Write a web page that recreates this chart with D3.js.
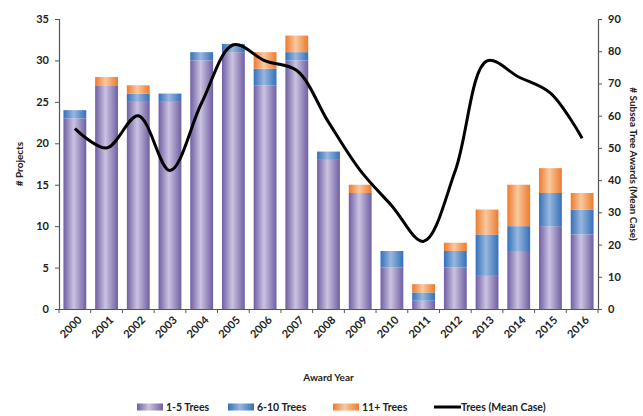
<!DOCTYPE html>
<html>
<head>
<meta charset="utf-8">
<script src="https://cdn.jsdelivr.net/npm/d3@7"></script>
<style>
  html, body { margin: 0; padding: 0; background: #fff; }
  svg text { font-family: Lato, "Open Sans", sans-serif; font-weight: bold; fill: #222; }
</style>
</head>
<body>
<svg id="chart" width="643" height="416"></svg>
<script>
// Award years and project counts per tree-count band
const years = ["2000","2001","2002","2003","2004","2005","2006","2007","2008","2009","2010","2011","2012","2013","2014","2015","2016"];
const trees1to5  = [23, 27, 25, 25, 30, 31, 27, 30, 18, 14, 5, 1, 5, 4, 7, 10, 9];
const trees6to10 = [ 1,  0,  1,  1,  1,  1,  2,  1,  1,  0, 2, 1, 2, 5, 3,  4, 3];
const trees11up  = [ 0,  1,  1,  0,  0,  0,  2,  2,  0,  1, 0, 1, 1, 3, 5,  3, 2];
// Subsea tree awards, mean case (right axis)
const meanCase = [56, 50, 60, 43, 64, 82, 77, 74, 58, 43, 32, 21, 43, 77, 72, 67, 53];

const leftTicks = [0, 5, 10, 15, 20, 25, 30, 35];
const rightTicks = [0, 10, 20, 30, 40, 50, 60, 70, 80, 90];
const seriesNames = ["1-5 Trees", "6-10 Trees", "11+ Trees"];

const svg = d3.select("#chart");
const m = { left: 59, right: 45, top: 19, bottom: 107 };
const W = 643, H = 416;
const x0 = m.left, x1 = W - m.right, yTop = m.top, yBot = H - m.bottom;

const x = d3.scaleBand().domain(years).range([x0, x1]).paddingInner(0.28).paddingOuter(0.14);
const yL = d3.scaleLinear().domain([0, 35]).range([yBot, yTop]);
const yR = d3.scaleLinear().domain([0, 90]).range([yBot, yTop]);

// cylinder-style horizontal gradients
const defs = svg.append("defs");
const grads = [
  { id: "g1", edge: "#6f5ea3", mid: "#cbc3e0" },
  { id: "g2", edge: "#3570b9", mid: "#98b7de" },
  { id: "g3", edge: "#ee7a2c", mid: "#f8c9a0" }
];
grads.forEach(g => {
  const lg = defs.append("linearGradient").attr("id", g.id).attr("x1", "0%").attr("x2", "100%").attr("y1", "0%").attr("y2", "0%");
  lg.append("stop").attr("offset", "0%").attr("stop-color", g.edge);
  lg.append("stop").attr("offset", "45%").attr("stop-color", g.mid);
  lg.append("stop").attr("offset", "100%").attr("stop-color", g.edge);
});

const table = years.map((yr, i) => ({ year: yr, a: trees1to5[i], b: trees6to10[i], c: trees11up[i] }));
const stack = d3.stack().keys(["a", "b", "c"])(table);

svg.append("g").selectAll("g").data(stack).join("g")
  .attr("fill", (d, i) => `url(#${grads[i].id})`)
  .selectAll("rect").data(d => d).join("rect")
  .attr("x", d => x(d.data.year))
  .attr("width", x.bandwidth())
  .attr("y", d => yL(d[1]))
  .attr("height", d => yL(d[0]) - yL(d[1]));

// mean case line
const line = d3.line()
  .x((d, i) => x(years[i]) + x.bandwidth() / 2)
  .y(d => yR(d))
  .curve(d3.curveCatmullRom.alpha(0.5));
svg.append("path").datum(meanCase)
  .attr("d", line).attr("fill", "none").attr("stroke", "#000").attr("stroke-width", 3);

// axes
const axisColor = "#555";
const gl = svg.append("g").attr("transform", `translate(${x0},0)`)
  .call(d3.axisLeft(yL).tickValues(leftTicks).tickSize(4).tickPadding(6));
const gr = svg.append("g").attr("transform", `translate(${x1},0)`)
  .call(d3.axisRight(yR).tickValues(rightTicks).tickSize(4).tickPadding(6));
const gx = svg.append("g").attr("transform", `translate(0,${yBot})`)
  .call(d3.axisBottom(x).tickSize(0).tickFormat(""));
// bottom tick marks at band boundaries
const bounds = d3.range(years.length + 1).map(i => x0 + i * (x1 - x0) / years.length);
gx.selectAll(".bt").data(bounds).join("line").attr("class", "bt")
  .attr("x1", d => d).attr("x2", d => d).attr("y1", 0).attr("y2", 4)
  .attr("stroke", axisColor);
[gl, gr, gx].forEach(g => {
  g.select(".domain").attr("stroke", axisColor).attr("stroke-width", 1.2);
  g.selectAll(".tick line").attr("stroke", axisColor);
  g.selectAll(".tick text").attr("font-size", 11).style("font-family", "Lato, sans-serif").style("font-weight", "bold").attr("fill", "#222");
});

// rotated year labels
svg.append("g").selectAll("text").data(years).join("text")
  .attr("transform", d => `translate(${x(d) + x.bandwidth() / 2 + 5},${yBot + 9}) rotate(-45)`)
  .attr("text-anchor", "end")
  .attr("dy", "0.35em")
  .attr("font-size", 11)
  .text(d => d);

// axis titles
svg.append("text").attr("transform", `translate(23,${(yTop + yBot) / 2}) rotate(-90)`)
  .attr("text-anchor", "middle").attr("font-size", 10).text("# Projects");
svg.append("text").attr("transform", `translate(630,${(yTop + yBot) / 2}) rotate(90)`)
  .attr("text-anchor", "middle").attr("font-size", 10).text("# Subsea Tree Awards (Mean Case)");
svg.append("text").attr("x", (x0 + x1) / 2).attr("y", 381)
  .attr("text-anchor", "middle").attr("font-size", 10).text("Award Year");

// legend
const lg = svg.append("g").attr("transform", "translate(0,407)");
const items = [
  { x: 137, name: seriesNames[0], fill: "url(#g1)" },
  { x: 228, name: seriesNames[1], fill: "url(#g2)" },
  { x: 333, name: seriesNames[2], fill: "url(#g3)" }
];
items.forEach(it => {
  lg.append("rect").attr("x", it.x).attr("y", -3.5).attr("width", 26).attr("height", 7).attr("fill", it.fill);
  lg.append("text").attr("x", it.x + 29).attr("y", 0).attr("dy", "0.35em").attr("font-size", 10.5).text(it.name);
});
lg.append("line").attr("x1", 434).attr("x2", 461).attr("y1", 0).attr("y2", 0).attr("stroke", "#000").attr("stroke-width", 3);
lg.append("text").attr("x", 461).attr("y", 0).attr("dy", "0.35em").attr("font-size", 10.5).text("Trees (Mean Case)");
</script>
</body>
</html>
